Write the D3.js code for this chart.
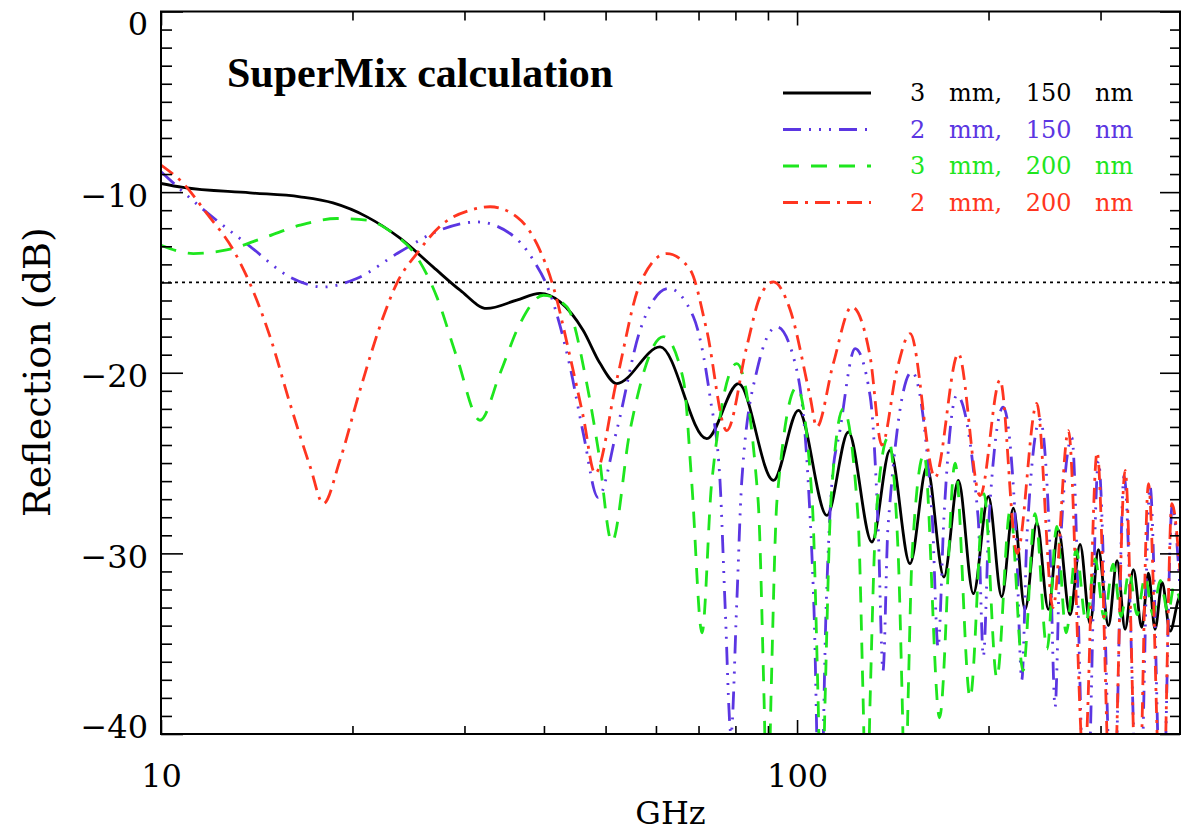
<!DOCTYPE html>
<html>
<head>
<meta charset="utf-8">
<script src="https://cdnjs.cloudflare.com/ajax/libs/d3/7.8.5/d3.min.js"></script>
<style>
body { margin: 0; background: #fff; }
svg { display: block; }
.lab { font-family: "DejaVu Serif", serif; fill: #000; }
</style>
</head>
<body>
<script>

// [frequency GHz, reflection dB] (extrema + a few shoulders)
var black3mm150 = [[10,-9.52],[10.83,-9.74],[13.80,-10.04],[16.54,-10.26],[18.64,-10.6],[21.08,-11.37],[23.76,-12.55],[26.77,-14.14],[29.53,-15.43],[32.52,-16.44],
  [36.25,-15.98],[39.44,-15.61],[42.41,-16.08],[46.09,-17.65],[49.0,-19.48],[52.06,-20.6],[60.9,-18.57],[72.1,-23.65],[80.9,-20.6],[91.8,-25.96],
  [100.5,-22.08],[111.4,-27.9],[120.4,-23.28],[131.1,-29.37],[140.0,-24.29],[150.5,-30.57],[160.0,-25.22],[170.2,-31.31],[179.3,-25.96],[189.3,-32.23],
  [199.9,-26.85],[209.8,-32.4],[218.8,-27.5],[228.3,-33.1],[238.2,-28.3],[248.4,-33.1],[257.5,-28.7],[268.7,-33.4],[278.6,-29.5],[288.9,-33.9],
  [297.7,-29.8],[308.7,-34.0],[318.5,-30.4],[327.9,-34.2],[337.9,-30.9],[348.3,-34.1],[356.8,-31.1],[365.5,-34.2],[374.9,-31.6],[385.9,-34.3],
  [397.3,-32.6],[400,-32.3]];

var blue2mm150 = [[10,-8.87],[11.51,-10.8],[13.80,-13.0],[15.95,-14.7],[18.0,-15.25],[20.31,-14.78],[23.76,-13.3],[27.47,-12.1],[31.36,-11.65],[35.38,-12.29],
  [38.5,-13.77],[40.89,-15.6],[43.97,-19.68],[46.13,-23.37],[48.65,-26.9],[52.06,-23.19],[56.65,-17.65],[62.78,-15.33],[68.71,-16.9],[72.98,-21.34],
  [75.66,-26.0],[77.05,-32.8],[78.73,-40.0],[80.38,-32.8],[81.86,-26.0],[86.44,-19.9],[92.91,-17.46],[99.9,-19.86],[104.1,-26],[106.3,-33],
  [108.7,-46],[111.1,-33],[113.5,-26],[116.8,-23.2],[123.4,-18.66],[130.3,-21.3],[134.1,-28.5],[136.5,-36.5],[139.0,-28.5],[151.5,-19.95],
  [163.1,-28],[166.6,-35.2],[170.2,-28],[178.3,-21.25],[192.6,-28],[196.3,-35.7],[200.4,-28],[210.9,-21.9],[221.0,-29],[225.6,-37.0],
  [229.9,-29],[241.1,-22.6],[250.0,-30],[254.5,-38.5],[259.1,-30],[270.4,-23.6],[284.7,-46],[297.7,-24.9],[314.0,-46],[326.7,-25.7],
  [344.9,-46],[358.9,-26.3],[374.9,-46],[388.8,-27.4],[400,-32]];

var green3mm200 = [[10,-12.94],[11.24,-13.4],[12.68,-13.2],[14.66,-12.47],[16.54,-11.83],[18.89,-11.46],[21.06,-11.55],[23.18,-12.29],[25.24,-13.58],[27.14,-15.8],
  [29.17,-19.12],[31.74,-22.63],[34.12,-20.04],[36.69,-17.27],[39.92,-15.71],[43.45,-16.35],[46.71,-20.6],[48.71,-24.3],[51.15,-29.37],[54.62,-23.2],
  [61.65,-18.0],[66.27,-20.4],[68.31,-26.1],[70.89,-34.4],[73.41,-26.1],[80.38,-19.5],[86.82,-27],[88.73,-38],[89.86,-46],[91.0,-38],
  [93.02,-27],[99.9,-20.8],[105.6,-27],[107.9,-38],[109.3,-46],[110.7,-38],[113.1,-27],[118.2,-22.0],[124.7,-28],[127.0,-38],
  [128.6,-46],[130.3,-38],[133.1,-28],[139.0,-23.6],[144.2,-30],[146.3,-38],[147.9,-45],[149.5,-38],[151.7,-30],[158.4,-24.5],
  [167.5,-39.1],[177.2,-25.0],[187.1,-38.0],[196.8,-26.7],[206.1,-36.9],[216.3,-27.6],[226.6,-36.5],[236.7,-27.8],[247.2,-35.3],[256.0,-28.5],
  [264.9,-34.4],[274.7,-29.8],[284.7,-33.8],[294.2,-30.3],[304.0,-33.6],[314.0,-30.6],[323.2,-33.5],[332.7,-31.0],[342.4,-33.4],[352.6,-31.3],
  [362.8,-33.4],[372.3,-31.5],[383.2,-33.3],[391.6,-31.8],[400,-32.6]];

var red2mm200 = [[10,-8.5],[10.84,-9.52],[11.80,-11.18],[12.99,-13.2],[13.80,-15.06],[14.84,-18.0],[15.95,-21.7],[17.16,-25.2],[18.0,-27.25],[19.11,-24.85],
  [20.55,-20.97],[22.36,-16.9],[23.47,-15.06],[25.24,-13.4],[27.80,-11.73],[30.62,-11.0],[32.91,-10.81],[36.25,-11.37],[38.96,-12.84],[41.39,-15.25],
  [43.97,-19.12],[46.13,-22.45],[48.13,-25.58],[52.06,-20.4],[56.65,-15.06],[62.42,-13.4],[67.91,-14.3],[72.11,-17.65],[77.53,-23.2],[83.33,-18.57],
  [87.44,-15.8],[91.78,-14.97],[97.5,-16.5],[104.8,-21.3],[107.4,-23.0],[114.0,-19.5],[121.9,-16.35],[130.3,-19.12],[135.9,-24.0],[143.5,-19.86],
  [150.6,-17.83],[164.8,-25.8],[179.3,-18.94],[194.0,-26.8],[208.5,-20.4],[221.8,-30.0],[238.2,-21.7],[252.6,-33.0],[267.1,-23.2],[282.7,-42],
  [296.3,-24.4],[312.9,-46],[327.9,-25.4],[343.7,-46],[356.8,-26.14],[374.9,-46],[388.4,-27.25],[400,-31]];

var seriesNames = ["3 mm, 150 nm", "2 mm, 150 nm", "3 mm, 200 nm", "2 mm, 200 nm"];
var threshold = -15;

var xMajor = [10, 100];
var xMinor = [20, 30, 40, 50, 60, 70, 80, 90, 200, 300];
var yMajor = [0, -10, -20, -30, -40];
var yMinor = d3.range(-39, 0).filter(function(v) { return v % 10 !== 0; });

var W = 1190, H = 834;
var L = 161, R = 1180, T = 11.5, B = 734;

var series = [
  {name: seriesNames[0], data: black3mm150, color: "#000000", dash: null},
  {name: seriesNames[1], data: blue2mm150, color: "#5b36e2", dash: "18,8,2,8,2,8,2,8"},
  {name: seriesNames[2], data: green3mm200, color: "#1ee61e", dash: "16,12"},
  {name: seriesNames[3], data: red2mm200, color: "#ff3520", dash: "15,7,3,7"}
];

var x = d3.scaleLog().domain([10, 400]).range([L, R]);
var y = d3.scaleLinear().domain([-40, 0]).range([B, T]);

var svg = d3.select("body").append("svg").attr("width", W).attr("height", H);

svg.append("clipPath").attr("id", "plot")
  .append("rect").attr("x", L).attr("y", T).attr("width", R - L).attr("height", B - T);

// -15 dB reference line
svg.append("line")
  .attr("x1", L).attr("x2", R)
  .attr("y1", y(threshold)).attr("y2", y(threshold))
  .attr("stroke", "#000").attr("stroke-width", 1.8)
  .attr("stroke-dasharray", "3,4");

var line = d3.line()
  .x(function(d) { return x(d[0]); })
  .y(function(d) { return y(d[1]); })
  .curve(d3.curveMonotoneX);

svg.append("g").attr("clip-path", "url(#plot)")
  .selectAll("path").data(series).enter().append("path")
  .attr("d", function(d) { return line(d.data); })
  .attr("fill", "none")
  .attr("stroke", function(d) { return d.color; })
  .attr("stroke-width", 2.8)
  .attr("stroke-dasharray", function(d) { return d.dash; });

// axes, IDL style: ticks inward on all four sides
function ticks(axis, tr) {
  var g = svg.append("g").attr("transform", tr).call(axis);
  g.select(".domain").remove();
  g.selectAll(".tick line").attr("stroke", "#000").attr("stroke-width", 1.6);
  return g;
}

var gx = ticks(d3.axisBottom(x).tickValues(xMajor).tickSize(-14).tickFormat(d3.format("d")), "translate(0," + B + ")");
gx.selectAll("text").attr("class", "lab").attr("y", 53).attr("dy", 0)
  .style("font-size", "32px").style("font-family", "DejaVu Serif, serif");
ticks(d3.axisBottom(x).tickValues(xMinor).tickSize(-8).tickFormat(""), "translate(0," + B + ")");
ticks(d3.axisTop(x).tickValues(xMajor).tickSize(-14).tickFormat(""), "translate(0," + T + ")");
ticks(d3.axisTop(x).tickValues(xMinor).tickSize(-9).tickFormat(""), "translate(0," + T + ")");

var gy = ticks(d3.axisLeft(y).tickValues(yMajor).tickSize(-22).tickPadding(13)
  .tickFormat(function(d) { return d === 0 ? "0" : "\u2212" + Math.abs(d); }), "translate(" + L + ",0)");
gy.selectAll("text").attr("class", "lab")
  .attr("dy", function(d) { return d === 0 ? 23 : d === -40 ? 3 : 14; })
  .style("font-size", "32px").style("font-family", "DejaVu Serif, serif");
ticks(d3.axisLeft(y).tickValues(yMinor).tickSize(-11).tickFormat(""), "translate(" + L + ",0)");
ticks(d3.axisRight(y).tickValues(yMajor).tickSize(-20).tickFormat(""), "translate(" + R + ",0)");
ticks(d3.axisRight(y).tickValues(yMinor).tickSize(-10).tickFormat(""), "translate(" + R + ",0)");

svg.append("rect")
  .attr("x", L).attr("y", T).attr("width", R - L).attr("height", B - T)
  .attr("fill", "none").attr("stroke", "#000").attr("stroke-width", 2);

// axis titles
svg.append("text").attr("class", "lab")
  .attr("x", (L + R) / 2).attr("y", 824)
  .attr("text-anchor", "middle")
  .style("font-size", "32px")
  .text("GHz");

svg.append("text").attr("class", "lab")
  .attr("transform", "translate(50,372) rotate(-90)")
  .attr("text-anchor", "middle")
  .attr("textLength", 290).attr("lengthAdjust", "spacingAndGlyphs")
  .style("font-size", "38px")
  .text("Reflection (dB)");

svg.append("text")
  .attr("x", 227).attr("y", 87)
  .style("font-family", "Liberation Serif, Times New Roman, serif")
  .style("font-weight", "bold")
  .style("font-size", "42px")
  .text("SuperMix calculation");

// legend
var leg = svg.append("g").selectAll("g").data(series).enter().append("g")
  .attr("transform", function(d, i) { return "translate(0," + (93 + i * 36.5) + ")"; });

leg.append("line")
  .attr("x1", 783).attr("x2", 871).attr("y1", 0).attr("y2", 0)
  .attr("stroke", function(d) { return d.color; })
  .attr("stroke-width", 2.8)
  .attr("stroke-dasharray", function(d) { return d.dash; });

leg.append("text")
  .attr("x", 910).attr("y", 8)
  .style("font-family", "DejaVu Serif, serif")
  .style("font-size", "24px")
  .style("word-spacing", "16px")
  .attr("fill", function(d) { return d.color; })
  .text(function(d) { return d.name; });

</script>
</body>
</html>
